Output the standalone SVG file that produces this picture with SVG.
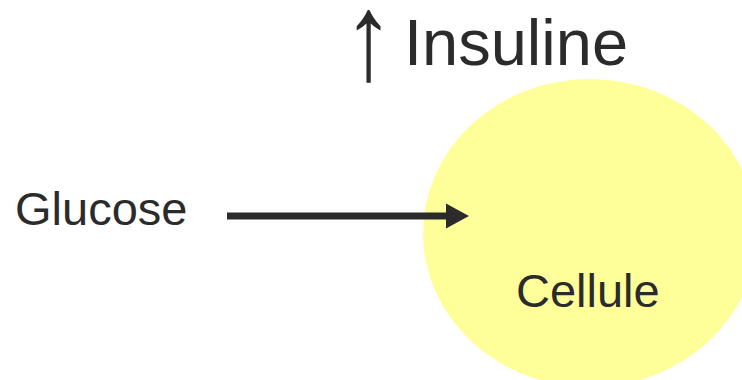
<svg xmlns="http://www.w3.org/2000/svg" width="742" height="380" viewBox="0 0 742 380">
  <defs>
    <style>
      .lbl { font-family: "Liberation Sans", Arial, sans-serif; fill: #2b2b2b; }
    </style>
  </defs>
  <rect width="742" height="380" fill="#ffffff"/>
  <g id="cellule">
    <ellipse cx="590" cy="233" rx="167" ry="154" fill="#ffff99"/>
    <text class="lbl" x="516" y="307" font-size="47">Cellule</text>
  </g>
  <g id="insuline">
    <text class="lbl" transform="translate(354,79) scale(0.86,1.04)" x="-12.5" y="0" font-size="118">↑</text>
    <text class="lbl" x="404" y="65" font-size="65">Insuline</text>
  </g>
  <g id="glucose">
    <text class="lbl" x="15" y="225" font-size="47">Glucose</text>
  </g>
  <g id="connectors">
    <line x1="227" y1="216" x2="452" y2="216" stroke="#2b2b2b" stroke-width="7"/>
    <path d="M446,203.5 L469,216 L446,228.5 Z" fill="#2b2b2b"/>
  </g>
</svg>
